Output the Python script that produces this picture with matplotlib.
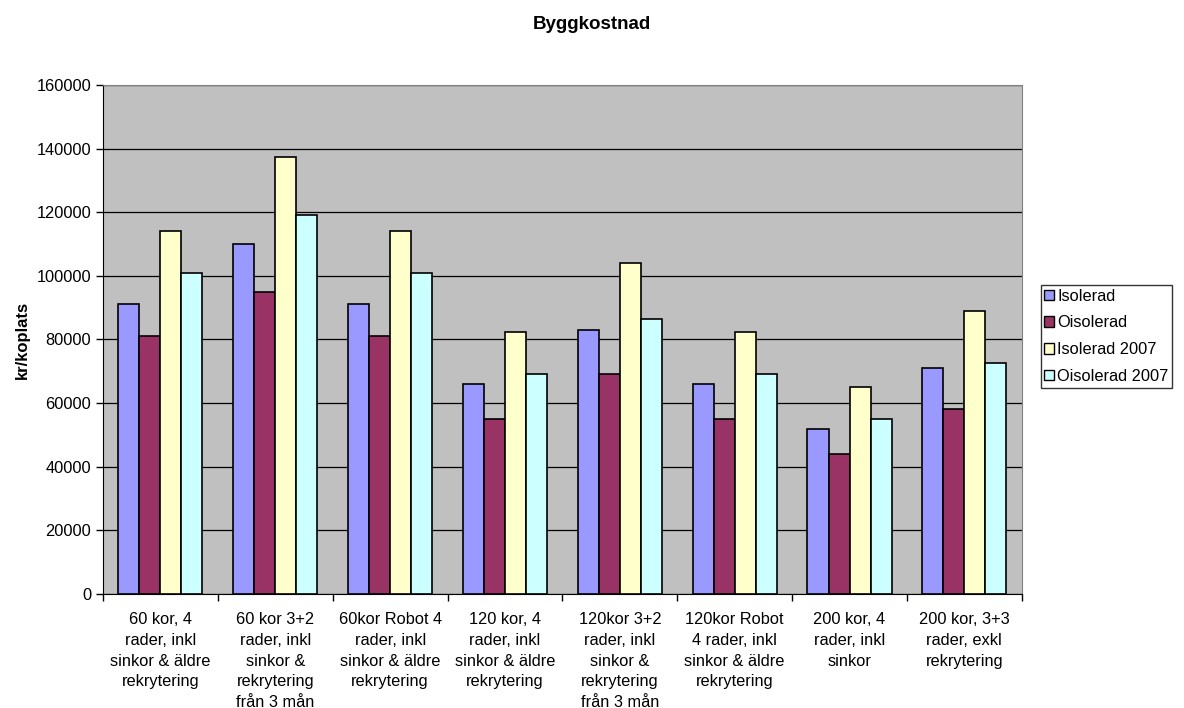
import numpy as np
import matplotlib.pyplot as plt
from matplotlib.patches import Patch

plt.rcParams['font.family'] = ['Liberation Sans', 'DejaVu Sans']

categories = [
    '60 kor, 4\nrader, inkl\nsinkor & äldre\nrekrytering',
    '60 kor 3+2\nrader, inkl\nsinkor &\nrekrytering\nfrån 3 mån',
    '60kor Robot 4\nrader, inkl\nsinkor & äldre\nrekrytering',
    '120 kor, 4\nrader, inkl\nsinkor & äldre\nrekrytering',
    '120kor 3+2\nrader, inkl\nsinkor &\nrekrytering\nfrån 3 mån',
    '120kor Robot\n4 rader, inkl\nsinkor & äldre\nrekrytering',
    '200 kor, 4\nrader, inkl\nsinkor',
    '200 kor, 3+3\nrader, exkl\nrekrytering',
]
series_names = ['Isolerad', 'Oisolerad', 'Isolerad 2007', 'Oisolerad 2007']
isolerad = [91000, 110000, 91000, 66000, 83000, 66000, 52000, 71000]
oisolerad = [81000, 95000, 81000, 55000, 69000, 55000, 44000, 58000]
isolerad_2007 = [114000, 137500, 114000, 82500, 104000, 82500, 65000, 89000]
oisolerad_2007 = [101000, 119000, 101000, 69000, 86300, 69000, 55000, 72700]
colors = ['#9999FF', '#993366', '#FFFFCC', '#CCFFFF']

series = [isolerad, oisolerad, isolerad_2007, oisolerad_2007]

fig = plt.figure(figsize=(11.84, 7.08), dpi=100)
ax = fig.add_axes([0.087, 0.161, 0.776, 0.719])
ax.set_facecolor('#C0C0C0')

x = np.arange(len(categories))
w = 0.183
for i, (vals, c, name) in enumerate(zip(series, colors, series_names)):
    ax.bar(x + (i - 1.5) * w, vals, w, color=c, edgecolor='black',
           linewidth=1.2, label=name, zorder=3)

ax.set_ylim(0, 160000)
ax.set_xlim(-0.5, len(categories) - 0.5)
ax.set_yticks(np.arange(0, 160001, 20000))
ax.yaxis.grid(True, color='black', linewidth=0.9, zorder=0)
ax.tick_params(axis='y', labelsize=11.8, direction='out', length=5, width=1)

# ticks between the groups, labels centred under each group
ax.set_xticks(np.arange(-0.5, len(categories), 1))
ax.set_xticklabels([])
ax.tick_params(axis='x', which='major', direction='out', length=5, width=1)
ax.set_xticks(x, minor=True)
ax.set_xticklabels(categories, minor=True, fontsize=11.8, linespacing=1.48)
ax.tick_params(axis='x', which='minor', length=0, pad=13)

for s in ['top', 'right']:
    ax.spines[s].set_color('#808080')
for s in ['left', 'bottom']:
    ax.spines[s].set_color('black')

ax.set_ylabel('kr/koplats', fontsize=12, fontweight='bold', labelpad=5)
fig.text(0.5, 0.965, 'Byggkostnad', ha='center', va='center',
         fontsize=13.5, fontweight='bold')

handles = [Patch(facecolor=c, edgecolor='black', label=n)
           for c, n in zip(colors, series_names)]
leg = fig.legend(handles=handles, loc='center left',
                 bbox_to_anchor=(0.879, 0.525), fontsize=11.8,
                 frameon=True, fancybox=False, edgecolor='black',
                 handlelength=0.6, handleheight=0.6, handletextpad=0.2,
                 labelspacing=0.72, borderpad=0.22, borderaxespad=0)
leg.get_frame().set_linewidth(1)

fig.savefig('out.png', dpi=100)
